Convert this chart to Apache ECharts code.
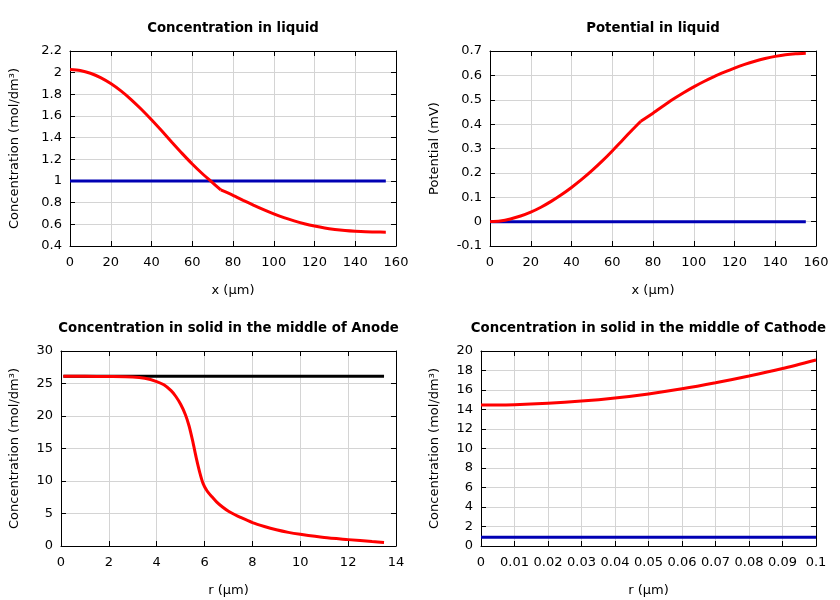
<!DOCTYPE html>
<html><head><meta charset="utf-8">
<script src="https://cdn.jsdelivr.net/npm/echarts@6/dist/echarts.min.js"></script>
<style>html,body{margin:0;padding:0;background:#fff}#c{width:840px;height:600px}</style>
</head><body><div id="c"></div>
<script>
// Concentration in liquid
const liqX = [0,5,10,15,20,25,30,35,40,45,50,55,60,65,69,74,80,85,90,95,100,105,110,115,120,125,130,135,140,145,150,155];
const liqC = [2.03,2.02,1.995,1.955,1.90,1.832,1.752,1.662,1.565,1.463,1.358,1.255,1.157,1.067,1.001,0.917,0.868,0.822,0.778,0.736,0.697,0.662,0.632,0.606,0.584,0.566,0.553,0.543,0.536,0.531,0.529,0.528];
const liqKink = 15; // index of the kink point
const liqRefX = [0,155];
const liqRefC = [1.0,1.0];
// Potential in liquid
const potX = [0,5,10,15,20,25,30,35,40,45,50,55,60,65,70,74,80,85,90,95,100,105,110,115,120,125,130,135,140,145,150,155];
const potV = [0,0.003,0.011,0.023,0.039,0.059,0.083,0.110,0.140,0.173,0.209,0.248,0.290,0.334,0.378,0.412,0.445,0.474,0.503,0.529,0.553,0.575,0.595,0.613,0.630,0.645,0.658,0.669,0.678,0.685,0.689,0.691];
const potKink = 15;
const potRefX = [0,155];
const potRefV = [0,0];
// Anode solid
const anR = [0.1,1,2,3,3.5,4.0,4.3,4.6,4.8,5.0,5.2,5.35,5.5,5.65,5.8,5.94,6.1,6.3,6.5,6.75,7.0,7.25,7.5,8.0,8.5,9.0,9.5,10,11,12,13,13.5];
const anC = [26.1,26.1,26.07,26.0,25.8,25.3,24.8,23.9,23.0,21.8,20.2,18.5,16.2,13.6,11.3,9.6,8.5,7.6,6.8,6.0,5.35,4.85,4.4,3.6,3.0,2.5,2.1,1.8,1.3,0.98,0.68,0.54];
const anRefR = [0.1,13.5];
const anRefC = [26.1,26.1];
// Cathode solid
const caR = [0,0.01,0.02,0.03,0.04,0.05,0.06,0.07,0.08,0.09,0.1];
const caC = [14.45,14.49,14.63,14.86,15.18,15.6,16.12,16.74,17.43,18.2,19.08];
const caRefR = [0,0.1];
const caRefC = [0.9,0.9];

const titles = ['Concentration in liquid','Potential in liquid','Concentration in solid in the middle of Anode','Concentration in solid in the middle of Cathode'];
const xNames = ['x (µm)','x (µm)','r (µm)','r (µm)'];
const yNames = ['Concentration (mol/dm³)','Potential (mV)','Concentration (mol/dm³)','Concentration (mol/dm³)'];
const xRanges = [[0,160,20],[0,160,20],[0,14,2],[0,0.1,0.01]];
const yRanges = [[0.4,2.2,0.2],[-0.1,0.7,0.1],[0,30,5],[0,20,2]];

const grids = [
  {left:70, top:51, width:326, height:195},
  {left:490, top:51, width:326, height:195},
  {left:61, top:351, width:335, height:195},
  {left:481, top:351, width:335, height:195}
];
const yGaps = [49,49,40,40];
const font = 'DejaVu Sans';
const fmt = [v=>+v.toFixed(1)+'', v=>+v.toFixed(1)+'', v=>Math.round(v)+'', v=>+v.toFixed(2)+''];
const yfmt = [v=>+v.toFixed(1)+'', v=>+v.toFixed(1)+'', v=>Math.round(v)+'', v=>Math.round(v)+''];

const xAxis = [], yAxis = [], graphic = [];
grids.forEach((g,i)=>{
  graphic.push({type:'text', x:g.left+g.width/2, y:g.top-22,
    style:{text:titles[i], textAlign:'center', textVerticalAlign:'middle',
      font:'bold 13.3px "DejaVu Sans"', fill:'#000'}});
  const common = {type:'value', gridIndex:i, min:xRanges[i][0], max:xRanges[i][1], interval:xRanges[i][2]};
  xAxis.push(Object.assign({}, common, {position:'bottom', name:xNames[i], nameLocation:'middle', nameGap:38,
    nameTextStyle:{fontFamily:font, fontSize:13, color:'#000'},
    axisLine:{show:true, onZero:false, lineStyle:{color:'#000', width:1}},
    axisTick:{show:true, inside:true, length:5, lineStyle:{color:'#000'}},
    axisLabel:{fontFamily:font, fontSize:13, color:'#000', margin:10, formatter:fmt[i], showMinLabel:true, showMaxLabel:true},
    splitLine:{show:true, lineStyle:{color:'#d4d4d4', width:1}}}));
  xAxis.push(Object.assign({}, common, {position:'top',
    axisLine:{show:true, onZero:false, lineStyle:{color:'#000', width:1}},
    axisTick:{show:true, inside:true, length:5, lineStyle:{color:'#000'}},
    axisLabel:{show:false}, splitLine:{show:false}}));
  const yc = {type:'value', gridIndex:i, min:yRanges[i][0], max:yRanges[i][1], interval:yRanges[i][2]};
  yAxis.push(Object.assign({}, yc, {position:'left', name:yNames[i], nameLocation:'middle', nameGap:yGaps[i],
    nameTextStyle:{fontFamily:font, fontSize:13, color:'#000'},
    axisLine:{show:true, onZero:false, lineStyle:{color:'#000', width:1}},
    axisTick:{show:true, inside:true, length:5, lineStyle:{color:'#000'}},
    axisLabel:{fontFamily:font, fontSize:13, color:'#000', margin:8, formatter:yfmt[i]},
    splitLine:{show:true, lineStyle:{color:'#d4d4d4', width:1}}}));
  yAxis.push(Object.assign({}, yc, {position:'right',
    axisLine:{show:true, onZero:false, lineStyle:{color:'#000', width:1}},
    axisTick:{show:true, inside:true, length:5, lineStyle:{color:'#000'}},
    axisLabel:{show:false}, splitLine:{show:false}}));
});

const zip = (a,b)=>a.map((v,k)=>[v,b[k]]);
function line(i, pts, color, w, smooth){
  return {type:'line', xAxisIndex:2*i, yAxisIndex:2*i, data:pts, showSymbol:false, symbol:'none',
    lineStyle:{color:color, width:w}, itemStyle:{color:color}, smooth:smooth||false, animation:false, z:3};
}
const liqPts = zip(liqX, liqC), potPts = zip(potX, potV);
const series = [
  line(0, zip(liqRefX, liqRefC), '#0000b4', 3),
  line(0, liqPts.slice(0, liqKink+1), '#ff0000', 3, 0.25),
  line(0, liqPts.slice(liqKink), '#ff0000', 3, 0.25),
  line(1, zip(potRefX, potRefV), '#0000b4', 3),
  line(1, potPts.slice(0, potKink+1), '#ff0000', 3, 0.25),
  line(1, potPts.slice(potKink), '#ff0000', 3, 0.25),
  line(2, zip(anRefR, anRefC), '#000000', 3),
  line(2, zip(anR, anC), '#ff0000', 3, 0.25),
  line(3, zip(caRefR, caRefC), '#0000b4', 3),
  line(3, zip(caR, caC), '#ff0000', 3, 0.25)
];

const chart = echarts.init(document.getElementById('c'), null, {renderer:'canvas'});
chart.setOption({animation:false, backgroundColor:'#fff', graphic, grid:grids, xAxis, yAxis, series});
</script></body></html>
